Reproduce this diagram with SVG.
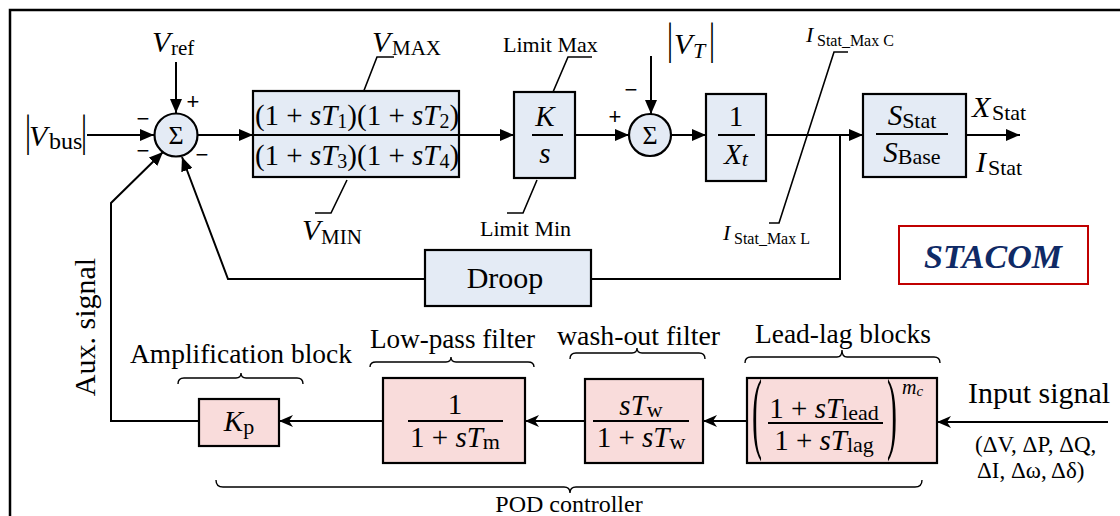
<svg xmlns="http://www.w3.org/2000/svg" width="1120" height="516" viewBox="0 0 1120 516">
<style>
.ln{stroke:#000;stroke-width:2;fill:none}
.ld{stroke:#000;stroke-width:1.6;fill:none}
.br{stroke:#000;stroke-width:1.4;fill:none}
.blue{fill:#e4ebf5;stroke:#000;stroke-width:2.2}
.pink{fill:#f9dcdb;stroke:#000;stroke-width:2.2}
text{font-family:"Liberation Serif","Times New Roman",serif;fill:#000}
.it{font-style:italic}
.m{font-size:29px}
.lab{font-size:27px}
.sg{font-family:"Liberation Sans",Arial,sans-serif;font-size:22px}
.stac{fill:#0f2a66;font-size:34px;font-weight:bold;font-style:italic}
</style>
<defs>
<marker id="ah" markerWidth="14" markerHeight="12" refX="14" refY="6" orient="auto" markerUnits="userSpaceOnUse"><path d="M0,0 L14,6 L0,12 z" fill="#000"/></marker>
<marker id="ah2" markerWidth="14" markerHeight="12" refX="14" refY="6" orient="auto" markerUnits="userSpaceOnUse"><path d="M0,0 L14,6 L0,12 L4,6 z" fill="#000"/></marker>
</defs>
<rect x="10" y="10" width="1200" height="600" fill="none" stroke="#000" stroke-width="2.5"/>

<g id="connectors">
<path class="ln" d="M87,135 H154" marker-end="url(#ah)"/>
<path class="ln" d="M176,62 V113" marker-end="url(#ah)"/>
<path class="ln" d="M197.5,135 H253" marker-end="url(#ah)"/>
<path class="ln" d="M459,135 H514" marker-end="url(#ah)"/>
<path class="ln" d="M575,135 H629" marker-end="url(#ah)"/>
<path class="ln" d="M651,56 V114" marker-end="url(#ah)"/>
<path class="ln" d="M671,135 H706" marker-end="url(#ah)"/>
<path class="ln" d="M766,135 H863" marker-end="url(#ah)"/>
<path class="ln" d="M966,135 H1020" marker-end="url(#ah)"/>
<path class="ln" d="M840,135 V279 H591"/>
<path class="ln" d="M425,279 H228 L182,157" marker-end="url(#ah)"/>
<path class="ln" d="M199,421 H111 V203 L163,152" marker-end="url(#ah)"/>
<path class="ln" d="M1108,422 H937" marker-end="url(#ah2)"/>
<path class="ln" d="M747,421 H703" stroke="#444" marker-end="url(#ah2)"/>
<path class="ln" d="M585,421 H525" marker-end="url(#ah2)"/>
<path class="ln" d="M383,421 H279" marker-end="url(#ah2)"/>
</g>

<g id="limit-leaders">
<path class="ld" d="M363,93 L377,57 H394"/>
<path class="ld" d="M347,180 L331,213 H315"/>
<path class="ld" d="M553,92 L568,57 H592"/>
<path class="ld" d="M537,180 L523,213 H507"/>
<path class="ld" d="M848,52 H834 L779,223 H769"/>
</g>

<g id="labels">
<text x="25" y="146" transform="translate(25,146) scale(1,1.45) translate(-25,-146)" font-size="30">|</text>
<text x="29" y="146" font-size="30" class="it">V</text>
<text x="49" y="149" font-size="24">bus</text>
<text x="81" y="146" transform="translate(81,146) scale(1,1.45) translate(-81,-146)" font-size="30">|</text>

<text x="152" y="52" font-size="30" class="it">V</text>
<text x="171" y="55" font-size="21">ref</text>

<text x="372" y="52" font-size="30" class="it">V</text>
<text x="392" y="55" font-size="21">MAX</text>
<text x="302" y="240" font-size="30" class="it">V</text>
<text x="321" y="244" font-size="21">MIN</text>

<text x="503" y="52" font-size="22">Limit Max</text>
<text x="480" y="236" font-size="22">Limit Min</text>

<text x="667" y="54" transform="translate(667,54) scale(1,1.5) translate(-667,-54)" font-size="30">|</text>
<text x="674" y="54" font-size="30" class="it">V</text>
<text x="693" y="58" font-size="22" class="it">T</text>
<text x="709" y="54" transform="translate(709,54) scale(1,1.5) translate(-709,-54)" font-size="30">|</text>

<text x="806" y="42" font-size="22" class="it">I</text>
<text x="817" y="46" font-size="16">Stat_Max C</text>
<text x="723" y="240" font-size="22" class="it">I</text>
<text x="734" y="244" font-size="16">Stat_Max L</text>

<text x="972" y="117" font-size="30" class="it">X</text>
<text x="992" y="120" font-size="22">Stat</text>
<text x="976" y="172" font-size="30" class="it">I</text>
<text x="988" y="175" font-size="22">Stat</text>

<text x="0" y="0" transform="translate(95,327) rotate(-90)" font-size="30" text-anchor="middle">Aux. signal</text>

<text x="130" y="363" class="lab" textLength="222" lengthAdjust="spacingAndGlyphs">Amplification block</text>
<text x="370" y="348" class="lab" textLength="165" lengthAdjust="spacingAndGlyphs">Low-pass filter</text>
<text x="557" y="345" class="lab" textLength="163" lengthAdjust="spacingAndGlyphs">wash-out filter</text>
<text x="755" y="343" class="lab" textLength="176" lengthAdjust="spacingAndGlyphs">Lead-lag blocks</text>

<text x="968" y="403" font-size="30" textLength="142" lengthAdjust="spacingAndGlyphs">Input signal</text>
<text x="975" y="452" font-size="23">(ΔV, ΔP, ΔQ,</text>
<text x="977" y="478" font-size="23">ΔI, Δω, Δδ)</text>

<text x="569" y="512" font-size="24" text-anchor="middle">POD controller</text>
</g>

<g id="braces">
<path class="br" d="M178,384 Q178,378 184,378 H236 Q241,378 241,373 Q241,378 246,378 H297 Q303,378 303,384"/>
<path class="br" d="M370,367 Q370,362 376,362 H446 Q451,362 451,357 Q451,362 456,362 H528 Q534,362 534,367"/>
<path class="br" d="M570,359 Q570,353 576,353 H632 Q637,353 637,348 Q637,353 642,353 H699 Q705,353 705,359"/>
<path class="br" d="M745,363 Q745,357 751,357 H837 Q842,357 842,350 Q842,357 847,357 H934 Q940,357 940,363"/>
<path class="br" d="M216,480 Q216,487 223,487 H564 Q570,487 570,493 Q570,487 576,487 H915 Q922,487 922,480"/>
</g>

<g id="sum1">
<circle cx="176" cy="135" r="21.5" class="blue"/>
<text x="176" y="144" font-size="26" text-anchor="middle">Σ</text>
<text x="143" y="126" class="sg" text-anchor="middle">−</text>
<text x="143" y="158" class="sg" text-anchor="middle">−</text>
<text x="202" y="162" class="sg" text-anchor="middle">−</text>
<text x="193" y="109" class="sg" text-anchor="middle">+</text>
</g>

<g id="leadlag-comp">
<rect x="253" y="91" width="206" height="86" class="blue"/>
<line x1="253" y1="135" x2="459" y2="135" stroke="#000" stroke-width="2"/>
<text x="357" y="125" class="m" text-anchor="middle">(1 + <tspan class="it">sT</tspan><tspan font-size="20" dy="3">1</tspan><tspan dy="-3">)(1 + </tspan><tspan class="it">sT</tspan><tspan font-size="20" dy="3">2</tspan><tspan dy="-3">)</tspan></text>
<text x="357" y="165" class="m" text-anchor="middle">(1 + <tspan class="it">sT</tspan><tspan font-size="20" dy="3">3</tspan><tspan dy="-3">)(1 + </tspan><tspan class="it">sT</tspan><tspan font-size="20" dy="3">4</tspan><tspan dy="-3">)</tspan></text>
</g>

<g id="integrator">
<rect x="514" y="92" width="61" height="86" class="blue"/>
<text x="545" y="126" class="m it" text-anchor="middle">K</text>
<line x1="532" y1="135" x2="563" y2="135" stroke="#000" stroke-width="2"/>
<text x="545" y="163" class="m it" text-anchor="middle">s</text>
</g>

<g id="sum2">
<circle cx="650" cy="135" r="21" class="blue"/>
<text x="650" y="144" font-size="26" text-anchor="middle">Σ</text>
<text x="631" y="97" class="sg" text-anchor="middle">−</text>
<text x="615" y="124" class="sg" text-anchor="middle">+</text>
</g>

<g id="inv-xt">
<rect x="706" y="94" width="60" height="87" class="blue"/>
<text x="736" y="126" class="m" text-anchor="middle">1</text>
<line x1="718" y1="135" x2="755" y2="135" stroke="#000" stroke-width="2"/>
<text x="736" y="164" class="m" text-anchor="middle"><tspan class="it">X</tspan><tspan class="it" font-size="22" dy="2">t</tspan></text>
</g>

<g id="sbase">
<rect x="863" y="94" width="103" height="83" class="blue"/>
<text x="912" y="125" class="m" text-anchor="middle"><tspan class="it">S</tspan><tspan font-size="22" dy="3">Stat</tspan></text>
<line x1="876" y1="134" x2="948" y2="134" stroke="#000" stroke-width="2"/>
<text x="912" y="162" class="m" text-anchor="middle"><tspan class="it">S</tspan><tspan font-size="22" dy="2">Base</tspan></text>
</g>

<g id="droop">
<rect x="425" y="250" width="166" height="56" class="blue"/>
<text x="505" y="288" font-size="30" text-anchor="middle">Droop</text>
</g>

<g id="stacom">
<rect x="899" y="226" width="189" height="58" fill="#fff" stroke="#c00000" stroke-width="2"/>
<text x="993" y="268" class="stac" text-anchor="middle">STACOM</text>
</g>

<g id="kp">
<rect x="199" y="399" width="80" height="47" class="pink"/>
<text x="239" y="431" class="m" text-anchor="middle"><tspan class="it">K</tspan><tspan font-size="22" dy="3">p</tspan></text>
</g>

<g id="lowpass">
<rect x="383" y="378" width="142" height="85" class="pink"/>
<text x="455" y="414" class="m" text-anchor="middle">1</text>
<line x1="408" y1="421" x2="503" y2="421" stroke="#000" stroke-width="2"/>
<text x="455" y="447" class="m" text-anchor="middle">1 + <tspan class="it">sT</tspan><tspan font-size="22" dy="2">m</tspan></text>
</g>

<g id="washout">
<rect x="585" y="379" width="118" height="84" class="pink"/>
<text x="641" y="415" class="m" text-anchor="middle"><tspan class="it">sT</tspan><tspan font-size="22" dy="2">w</tspan></text>
<line x1="593" y1="421" x2="689" y2="421" stroke="#000" stroke-width="2"/>
<text x="641" y="447" class="m" text-anchor="middle">1 + <tspan class="it">sT</tspan><tspan font-size="22" dy="2">w</tspan></text>
</g>

<g id="leadlag">
<rect x="747" y="378" width="190" height="85" class="pink"/>
<text x="752" y="442" transform="translate(752,442) scale(1,3) translate(-752,-442)" font-size="30">(</text>
<text x="887" y="442" transform="translate(887,442) scale(1,3) translate(-887,-442)" font-size="30">)</text>
<text x="824" y="418" class="m" text-anchor="middle">1 + <tspan class="it">sT</tspan><tspan font-size="22" dy="2">lead</tspan></text>
<line x1="768" y1="423" x2="883" y2="423" stroke="#000" stroke-width="2"/>
<text x="824" y="450" class="m" text-anchor="middle">1 + <tspan class="it">sT</tspan><tspan font-size="22" dy="2">lag</tspan></text>
<text x="902" y="394" font-size="20" class="it">m<tspan font-size="15" dy="2">c</tspan></text>
</g>
</svg>
